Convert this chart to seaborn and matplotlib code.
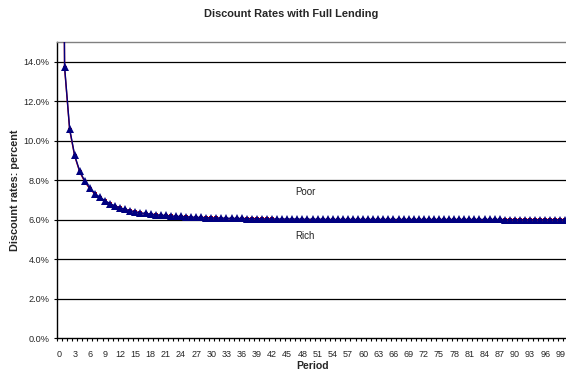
import numpy as np
import pandas as pd
import matplotlib
matplotlib.use("Agg")
import matplotlib.pyplot as plt
import seaborn as sns

# Discount rates (percent) by period, 0..100
periods = list(range(0, 101))

poor_rates = [
    50.00, 13.75, 10.60, 9.25, 8.45, 7.95, 7.60, 7.32, 7.13, 6.96,
    6.81, 6.69, 6.60, 6.52, 6.45, 6.40, 6.35, 6.31, 6.28, 6.25,
    6.23, 6.21, 6.19, 6.17, 6.16, 6.15, 6.13, 6.12, 6.11, 6.10,
    6.09, 6.09, 6.08, 6.07, 6.07, 6.06, 6.06, 6.05, 6.05, 6.05,
    6.04, 6.04, 6.04, 6.03, 6.03, 6.03, 6.03, 6.03, 6.02, 6.02,
    6.02, 6.02, 6.02, 6.01, 6.01, 6.01, 6.01, 6.01, 6.01, 6.01,
    6.01, 6.01, 6.01, 6.01, 6.01, 6.01, 6.01, 6.01, 6.01, 6.01,
    6.01, 6.01, 6.01, 6.01, 6.01, 6.01, 6.01, 6.01, 6.01, 6.01,
    6.01, 6.01, 6.01, 6.01, 6.01, 6.01, 6.01, 6.01, 6.00, 6.00,
    6.00, 6.00, 6.00, 6.00, 6.00, 6.00, 6.00, 6.00, 6.00, 6.00,
    6.00,
]

rich_rates = [
    49.00, 13.68, 10.55, 9.21, 8.41, 7.91, 7.56, 7.29, 7.10, 6.93,
    6.78, 6.66, 6.57, 6.49, 6.42, 6.37, 6.32, 6.28, 6.25, 6.22,
    6.20, 6.18, 6.16, 6.14, 6.13, 6.12, 6.10, 6.09, 6.08, 6.07,
    6.06, 6.06, 6.05, 6.04, 6.04, 6.03, 6.03, 6.02, 6.02, 6.02,
    6.01, 6.01, 6.01, 6.00, 6.00, 6.00, 6.00, 6.00, 5.99, 5.99,
    5.99, 5.99, 5.99, 5.98, 5.98, 5.98, 5.98, 5.98, 5.98, 5.98,
    5.98, 5.98, 5.98, 5.98, 5.98, 5.98, 5.98, 5.98, 5.98, 5.98,
    5.98, 5.98, 5.98, 5.98, 5.98, 5.98, 5.98, 5.98, 5.98, 5.98,
    5.98, 5.98, 5.98, 5.98, 5.98, 5.98, 5.98, 5.98, 5.97, 5.97,
    5.97, 5.97, 5.97, 5.97, 5.97, 5.97, 5.97, 5.97, 5.97, 5.97,
    5.97,
]

x_tick_labels = [str(p) for p in range(0, 100, 3)]
y_ticks = [0, 2, 4, 6, 8, 10, 12, 14]
y_tick_labels = [f"{v:.1f}%" for v in y_ticks]

df = pd.DataFrame({"Period": periods, "Poor": poor_rates, "Rich": rich_rates})

sns.set_style("white")
plt.rcParams["font.family"] = ["Liberation Sans", "DejaVu Sans"]

fig = plt.figure(figsize=(5.66, 3.71), dpi=100)
ax = fig.add_axes([57 / 566, 33 / 371, 511 / 566, 296 / 371])

# horizontal grid lines
for v in y_ticks[1:]:
    ax.axhline(v, color="black", lw=0.9, zorder=1)

sns.lineplot(data=df, x="Period", y="Rich", ax=ax, color="#cc0000", lw=1.0,
             marker="s", markersize=3.0, markeredgewidth=0, zorder=3)
sns.lineplot(data=df, x="Period", y="Poor", ax=ax, color="#000080", lw=1.0,
             marker="^", markersize=5.4, markeredgewidth=0, zorder=4)

ax.set_xlim(-0.5, 100.5)
ax.set_ylim(0, 15)

ax.set_xticks(list(range(0, 100, 3)))
ax.set_xticklabels(x_tick_labels, fontsize=6.5)
ax.set_xticks(np.arange(-0.5, 101, 1), minor=True)
ax.tick_params(axis="x", which="major", length=0, pad=8.5)
ax.tick_params(axis="x", which="minor", length=2.5, width=0.8, direction="out",
               color="black", bottom=True)

ax.set_yticks(y_ticks)
ax.set_yticklabels(y_tick_labels, fontsize=6.6)
ax.tick_params(axis="y", length=2.5, width=0.8, direction="out", color="black",
               left=True, pad=3)

for side in ["left", "bottom"]:
    ax.spines[side].set_color("black")
    ax.spines[side].set_linewidth(1.0)
ax.spines["top"].set_color("#808080")
ax.spines["top"].set_linewidth(1.0)
ax.spines["right"].set_visible(False)

ax.set_xlabel("Period", fontsize=7.6, fontweight="bold")
ax.xaxis.set_label_coords(0.5, -0.078)
ax.set_ylabel("Discount rates: percent", fontsize=7.8, fontweight="bold")
ax.yaxis.set_label_coords(-0.072, 0.5)

ax.text(48.6, 7.4, "Poor", fontsize=7, color="#222222", ha="center", va="center")
ax.text(48.6, 5.18, "Rich", fontsize=7, color="#222222", ha="center", va="center")

fig.text(291 / 566, 0.963, "Discount Rates with Full Lending", fontsize=7.9,
         fontweight="bold", ha="center", va="center")

fig.savefig("out.png", dpi=100)
